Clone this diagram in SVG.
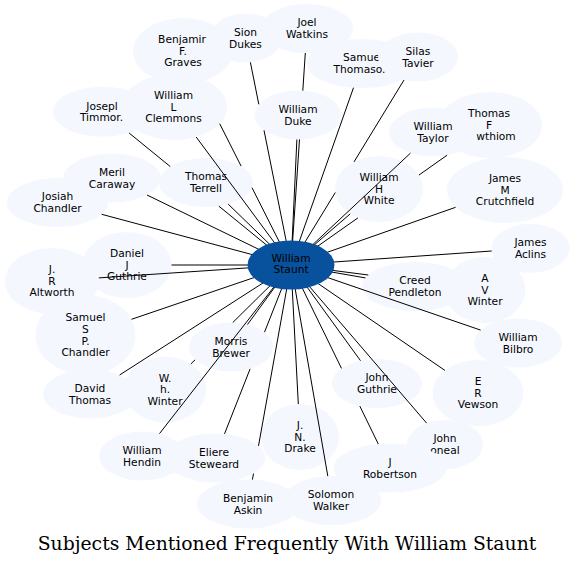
<svg xmlns="http://www.w3.org/2000/svg" width="575" height="566" viewBox="0 0 575 566">
<style>
.nd{fill:#f4f8fe;stroke:none}
.c{fill:#08519c;stroke:none}
.t{font-family:"DejaVu Sans","Liberation Sans",sans-serif;font-size:10.67px;text-anchor:middle;fill:#000}
.e{fill:none;stroke:#000;stroke-width:1}
.title{font-family:"DejaVu Serif","Liberation Serif",serif;font-size:18.8px;text-anchor:middle;fill:#000}
</style>
<rect width="575" height="566" fill="#fff"/>
<g id="nodes">
<g id="graves"><ellipse class="nd" cx="183" cy="51" rx="50" ry="33"/><text class="t"><tspan x="182" y="43">Benjamir</tspan><tspan x="183" y="54.7">F.</tspan><tspan x="183" y="66.4">Graves</tspan></text></g>
<g id="joel"><ellipse class="nd" cx="307" cy="28.5" rx="46" ry="24.5"/><text class="t"><tspan x="307" y="26.4">Joel</tspan><tspan x="307" y="38.1">Watkins</tspan></text></g>
<g id="sion"><ellipse class="nd" cx="245.5" cy="38" rx="36" ry="24.5"/><text class="t"><tspan x="245.5" y="35.9">Sion</tspan><tspan x="245.5" y="47.6">Dukes</tspan></text></g>
<g id="thomason"><ellipse class="nd" cx="362" cy="63.5" rx="55" ry="24.5"/><text class="t"><tspan x="361.5" y="61.4">Samue</tspan><tspan x="359.5" y="73.1">Thomaso.</tspan></text></g>
<g id="silas"><ellipse class="nd" cx="418" cy="57" rx="40" ry="24.5"/><text class="t"><tspan x="418" y="54.9">Silas</tspan><tspan x="418" y="66.6">Tavier</tspan></text></g>
<g id="duke"><ellipse class="nd" cx="298" cy="115" rx="43.5" ry="24.5"/><text class="t"><tspan x="298" y="112.9">William</tspan><tspan x="298" y="124.6">Duke</tspan></text></g>
<g id="timmons"><ellipse class="nd" cx="103" cy="111.7" rx="50" ry="25"/><text class="t"><tspan x="102" y="109.6">Josepl</tspan><tspan x="101.5" y="121.3">Timmor.</tspan></text></g>
<g id="clemmons"><ellipse class="nd" cx="174" cy="107" rx="53" ry="33"/><text class="t"><tspan x="173.5" y="99">William</tspan><tspan x="173.5" y="110.7">L</tspan><tspan x="173.5" y="122.4">Clemmons</tspan></text></g>
<g id="terrell"><ellipse class="nd" cx="206" cy="182.5" rx="47" ry="24.5"/><text class="t"><tspan x="206" y="180.4">Thomas</tspan><tspan x="206" y="192.1">Terrell</tspan></text></g>
<g id="josiah"><ellipse class="nd" cx="57.5" cy="202.5" rx="50.5" ry="24.5"/><text class="t"><tspan x="57.5" y="200.4">Josiah</tspan><tspan x="57.5" y="212.1">Chandler</tspan></text></g>
<g id="meril"><ellipse class="nd" cx="112" cy="178" rx="48.5" ry="24.5"/><text class="t"><tspan x="112" y="175.9">Meril</tspan><tspan x="112" y="187.6">Caraway</tspan></text></g>
<g id="wthiom"><ellipse class="nd" cx="490" cy="125" rx="52" ry="33"/><text class="t"><tspan x="489" y="117">Thomas</tspan><tspan x="489" y="128.7">F</tspan><tspan x="496" y="140.4">wthiom</tspan></text></g>
<g id="taylor"><ellipse class="nd" cx="433" cy="132" rx="44" ry="24.5"/><text class="t"><tspan x="433" y="129.9">William</tspan><tspan x="433" y="141.6">Taylor</tspan></text></g>
<g id="white"><ellipse class="nd" cx="379" cy="189" rx="44" ry="33"/><text class="t"><tspan x="379" y="181">William</tspan><tspan x="379" y="192.7">H</tspan><tspan x="379" y="204.4">White</tspan></text></g>
<g id="crutchfield"><ellipse class="nd" cx="505" cy="190" rx="58" ry="33"/><text class="t"><tspan x="505" y="182">James</tspan><tspan x="505" y="193.7">M</tspan><tspan x="505" y="205.4">Crutchfield</tspan></text></g>
<g id="aclins"><ellipse class="nd" cx="530.5" cy="248.3" rx="39" ry="24.5"/><text class="t"><tspan x="530.5" y="246.2">James</tspan><tspan x="530.5" y="257.9">Aclins</tspan></text></g>
<g id="avwinter"><ellipse class="nd" cx="485" cy="290" rx="40.5" ry="33"/><text class="t"><tspan x="485" y="282">A</tspan><tspan x="485" y="293.7">V</tspan><tspan x="485" y="305.4">Winter</tspan></text></g>
<g id="creed"><ellipse class="nd" cx="415" cy="286.5" rx="53" ry="24.5"/><text class="t"><tspan x="415" y="284.4">Creed</tspan><tspan x="415" y="296.1">Pendleton</tspan></text></g>
<g id="bilbro"><ellipse class="nd" cx="518" cy="343" rx="44" ry="24.5"/><text class="t"><tspan x="518" y="340.9">William</tspan><tspan x="518" y="352.6">Bilbro</tspan></text></g>
<g id="vewson"><ellipse class="nd" cx="478" cy="393" rx="45.5" ry="33"/><text class="t"><tspan x="478" y="385">E</tspan><tspan x="478" y="396.7">R</tspan><tspan x="478" y="408.4">Vewson</tspan></text></g>
<g id="jguthrie"><ellipse class="nd" cx="377" cy="383.5" rx="45" ry="24.5"/><text class="t"><tspan x="377" y="381.4">John</tspan><tspan x="377" y="393.1">Guthrie</tspan></text></g>
<g id="oneal"><ellipse class="nd" cx="445" cy="444.5" rx="38" ry="24.5"/><text class="t"><tspan x="445" y="442.4">John</tspan><tspan x="445" y="454.1">oneal</tspan></text></g>
<g id="robertson"><ellipse class="nd" cx="390" cy="468" rx="56.5" ry="24.5"/><text class="t"><tspan x="390" y="465.9">J</tspan><tspan x="390" y="477.6">Robertson</tspan></text></g>
<g id="drake"><ellipse class="nd" cx="300" cy="437" rx="39" ry="33"/><text class="t"><tspan x="300" y="429">J.</tspan><tspan x="300" y="440.7">N.</tspan><tspan x="300" y="452.4">Drake</tspan></text></g>
<g id="walker"><ellipse class="nd" cx="332" cy="500.5" rx="49" ry="24.5"/><text class="t"><tspan x="331" y="498.4">Solomon</tspan><tspan x="331" y="510.1">Walker</tspan></text></g>
<g id="askin"><ellipse class="nd" cx="248" cy="504" rx="51" ry="24.5"/><text class="t"><tspan x="248" y="501.9">Benjamin</tspan><tspan x="248" y="513.6">Askin</tspan></text></g>
<g id="hendin"><ellipse class="nd" cx="142" cy="456" rx="43" ry="24.5"/><text class="t"><tspan x="142" y="453.9">William</tspan><tspan x="142" y="465.6">Hendin</tspan></text></g>
<g id="steweard"><ellipse class="nd" cx="215" cy="458" rx="50" ry="24.5"/><text class="t"><tspan x="214" y="455.9">Eliere</tspan><tspan x="214" y="467.6">Steweard</tspan></text></g>
<g id="davidthomas"><ellipse class="nd" cx="90" cy="394" rx="47" ry="24.5"/><text class="t"><tspan x="90" y="391.9">David</tspan><tspan x="90" y="403.6">Thomas</tspan></text></g>
<g id="whwinter"><ellipse class="nd" cx="165" cy="389.5" rx="41" ry="33"/><text class="t"><tspan x="165" y="381.5">W.</tspan><tspan x="165" y="393.2">h.</tspan><tspan x="165" y="404.9">Winter</tspan></text></g>
<g id="samuelchandler"><ellipse class="nd" cx="85.5" cy="335" rx="50" ry="40"/><text class="t"><tspan x="85.5" y="321.2">Samuel</tspan><tspan x="85.5" y="332.9">S</tspan><tspan x="85.5" y="344.6">P.</tspan><tspan x="85.5" y="356.3">Chandler</tspan></text></g>
<g id="altworth"><ellipse class="nd" cx="52" cy="281" rx="47" ry="33"/><text class="t"><tspan x="52" y="273">J.</tspan><tspan x="52" y="284.7">R</tspan><tspan x="52" y="296.4">Altworth</tspan></text></g>
<g id="danielguthrie"><ellipse class="nd" cx="127" cy="265" rx="44.5" ry="33"/><text class="t"><tspan x="127" y="257">Daniel</tspan><tspan x="127" y="268.7">J</tspan><tspan x="127" y="280.4">Guthrie</tspan></text></g>
<g id="brewer"><ellipse class="nd" cx="231" cy="347" rx="42" ry="24.5"/><text class="t"><tspan x="231" y="344.9">Morris</tspan><tspan x="231" y="356.6">Brewer</tspan></text></g>
</g>
<g id="connectors" class="e">
<path d="M101.7,214.3L291,265"/>
<path d="M147,195L291,265"/>
<path d="M129.1,133L170.3,166.6M218.8,206.1L291,265"/>
<path d="M196.2,137L291,265"/>
<path d="M219.7,123.7L241.1,166.1M252,187.7L291,265"/>
<path d="M250.4,62.3L258.8,104.3M264,130.3L291,265"/>
<path d="M305.3,53L302.8,90.7M299.5,139.4L291,265"/>
<path d="M296.9,139.5L291,265"/>
<path d="M353.5,87.7L291,265"/>
<path d="M404,80L354,161.9M335.3,192.5L291,265"/>
<path d="M410.5,153.1L291,265"/>
<path d="M447.1,155.2L418.9,175.1M357.9,217.9L291,265"/>
<path d="M350.2,213.9L291,265"/>
<path d="M455.6,207.3L291,265"/>
<path d="M491.7,251L291,265"/>
<path d="M365.4,277.9L291,265"/>
<path d="M368.3,275L291,265"/>
<path d="M480.6,330.1L291,265"/>
<path d="M444.9,370.4L291,265"/>
<path d="M426.6,423.1L291,265"/>
<path d="M378.3,444L359.8,406.1M341.5,368.4L291,265"/>
<path d="M360.5,360.7L291,265"/>
<path d="M327.8,476.1L291,265"/>
<path d="M298.3,404L291,265"/>
<path d="M252.4,479.6L253.5,473.6M258.5,445.9L291,265"/>
<path d="M224.5,433.9L250.1,368.9M264.5,332.2L291,265"/>
<path d="M159.5,433.6L291,265"/>
<path d="M119.6,375L291,265"/>
<path d="M190.9,363.9L195.1,359.8M232.8,322.5L291,265"/>
<path d="M131.5,319.3L291,265"/>
<path d="M98.8,277.9L291,265"/>
<path d="M171.5,265L291,265"/>
<path d="M247.5,324.5L291,265"/>
<path d="M228.2,204.1L291,265"/>
</g>
<g id="staunt"><ellipse class="c" cx="291" cy="265" rx="43.5" ry="24.5"/><text class="t"><tspan x="291" y="261.7">William</tspan><tspan x="291" y="273.4">Staunt</tspan></text></g>
<text class="title" x="287" y="550">Subjects Mentioned Frequently With William Staunt</text>
</svg>
